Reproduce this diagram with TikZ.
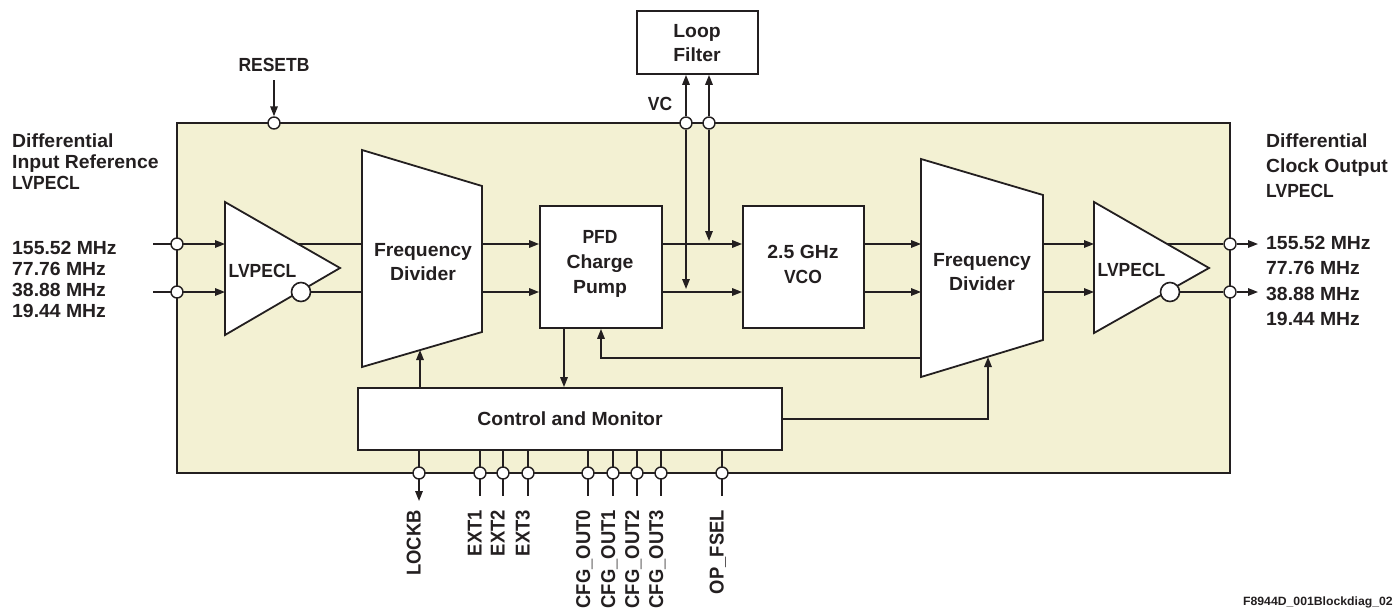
\documentclass[tikz,border=0pt]{standalone}
\usepackage{fontspec}
\setmainfont{Liberation Sans}[FakeStretch=1.02]
\newfontfamily\capsfont{Liberation Sans}[FakeStretch=0.92]
\usetikzlibrary{arrows.meta}
\definecolor{lc}{HTML}{231F20}
\definecolor{chip}{HTML}{F3F1D3}
\pgfdeclarelayer{bg}
\pgfdeclarelayer{fg}
\pgfsetlayers{bg,main,fg}
\tikzset{
  ln/.style={draw=lc, line width=1.6pt},
  arr/.style={ln, -{Triangle[length=10pt,width=7.5pt]}},
  pinc/.style={circle, draw=lc, fill=white, line width=1.4pt, minimum size=12pt, inner sep=0pt},
  bubble/.style={circle, draw=lc, fill=white, line width=1.6pt, minimum size=19pt, inner sep=0pt},
  blk/.style={draw=lc, fill=white, line width=1.8pt},
  chipbox/.style={draw=lc, fill=chip, line width=1.8pt, inner sep=0pt, minimum width=1053pt, minimum height=350pt},
  txt/.style={font=\bfseries\fontsize{19}{21}\selectfont, inner sep=0pt, text=lc},
  caps/.style={font=\capsfont\bfseries\fontsize{19}{21}\selectfont, inner sep=0pt, text=lc},
  pinlab/.style={font=\capsfont\bfseries\fontsize{20}{22}\selectfont, inner sep=0pt, text=lc, rotate=90, anchor=base east},
}
\begin{document}
\begin{tikzpicture}[x=1pt,y=-1pt]
\useasboundingbox (0,0) rectangle (1397,610);

\begin{pgfonlayer}{bg}
\node[chipbox] (chipb) at (703.5,298) {};
\end{pgfonlayer}

% connection points
\coordinate (inA) at (153,244);
\coordinate (inB) at (153,292);
\coordinate (t1iA) at (225,244);
\coordinate (t1iB) at (225,292);
\coordinate (t1oA) at (298,244);
\coordinate (f1iA) at (362,244);
\coordinate (f1iB) at (362,292);
\coordinate (f1oA) at (482,244);
\coordinate (f1oB) at (482,292);
\coordinate (f1c) at (420,350);
\coordinate (f2iA) at (921,244);
\coordinate (f2iB) at (921,292);
\coordinate (f2oA) at (1043,244);
\coordinate (f2oB) at (1043,292);
\coordinate (f2fb) at (921,358);
\coordinate (f2c) at (988,357);
\coordinate (t2iA) at (1094,244);
\coordinate (t2iB) at (1094,292);
\coordinate (t2oA) at (1167,244);
\coordinate (outA) at (1258,244);
\coordinate (outB) at (1258,292);
\coordinate (rst) at (274,80);
\coordinate (pfdd) at (564,328);

% blocks
\draw[blk] (225,202) -- (340,268) -- (225,335) -- cycle;
\draw[blk] (362,150) -- (482,186) -- (482,332) -- (362,367) -- cycle;
\draw[blk] (921,159) -- (1043,195) -- (1043,340) -- (921,377) -- cycle;
\draw[blk] (1094,202) -- (1209,268) -- (1094,333) -- cycle;
\node[blk, minimum width=122pt, minimum height=122pt, inner sep=0pt] (pfd) at (601,267) {};
\node[blk, minimum width=121pt, minimum height=122pt, inner sep=0pt] (vco) at (803.5,267) {};
\node[blk, minimum width=121pt, minimum height=63pt, inner sep=0pt] (lf) at (697.5,42.5) {};
\node[blk, minimum width=424pt, minimum height=62pt, inner sep=0pt, txt] (ctl) at (570,419) {Control and Monitor};

% pins and bubbles
\begin{pgfonlayer}{fg}
\node[pinc] (pA) at (177,244) {};
\node[pinc] (pB) at (177,292) {};
\node[pinc] (pR) at (274,123) {};
\node[pinc] (pvc1) at (686,123) {};
\node[pinc] (pvc2) at (709,123) {};
\node[pinc] (pOA) at (1230,244) {};
\node[pinc] (pOB) at (1230,292) {};
\node[bubble] (b1) at (301,292) {};
\node[bubble] (b2) at (1170,292) {};
\foreach \n/\x in {lock/419,e1/480,e2/503,e3/528,c0/588,c1/613,c2/637,c3/661,op/722}{
  \node[pinc] (p\n) at (\x,473) {};
}
\end{pgfonlayer}

% connectors
\draw[arr] (inA) -- (t1iA);
\draw[arr] (inB) -- (t1iB);
\draw[ln] (t1oA) -- (f1iA);
\draw[ln] (b1) -- (f1iB);
\draw[arr] (f1oA) -- (pfd.west |- f1oA);
\draw[arr] (f1oB) -- (pfd.west |- f1oB);
\draw[arr] (pfd.east |- f1oA) -- (vco.west |- f1oA);
\draw[arr] (pfd.east |- f1oB) -- (vco.west |- f1oB);
\draw[arr] (vco.east |- f1oA) -- (f2iA);
\draw[arr] (vco.east |- f1oB) -- (f2iB);
\draw[arr] (f2oA) -- (t2iA);
\draw[arr] (f2oB) -- (t2iB);
\draw[ln] (t2oA) -- (pOA);
\draw[ln] (b2) -- (pOB);
\draw[arr] (pOA) -- (outA);
\draw[arr] (pOB) -- (outB);
\draw[arr] (rst) -- (pR.north);
\draw[arr] (pvc1) -- (pvc1 |- lf.south);
\draw[arr] (pvc2) -- (pvc2 |- lf.south);
\draw[arr, shorten >=3pt] (pvc1) -- (pvc1 |- f1oB);
\draw[arr, shorten >=3pt] (pvc2) -- (pvc2 |- f1oA);
\draw[arr] (pfdd) -- (pfdd |- ctl.north);
\draw[arr] (f1c |- ctl.north) -- (f1c);
\draw[arr] (f2fb) -| (pfd.south);
\draw[arr] (ctl.east) -| (f2c);
\draw[arr] (ctl.south -| plock) -- ([yshift=-28pt]plock.center);
\foreach \n in {e1,e2,e3,c0,c1,c2,c3,op}{
  \draw[ln] (ctl.south -| p\n) -- ([yshift=-23pt]p\n.center);
}

% texts
\node[txt, anchor=base west] (lh1) at (12,147) {Differential};
\node[txt, anchor=base west] (lh2) at (12,168) {Input Reference};
\node[caps, anchor=base west] (lh3) at (12,189) {LVPECL};
\node[txt, anchor=base west] (lf1) at (12,254) {155.52 MHz};
\node[txt, anchor=base west] (lf2) at (12,275) {77.76 MHz};
\node[txt, anchor=base west] (lf3) at (12,296) {38.88 MHz};
\node[txt, anchor=base west] (lf4) at (12,317) {19.44 MHz};
\node[txt, anchor=base west] (rh1) at (1266,147) {Differential};
\node[txt, anchor=base west] (rh2) at (1266,172) {Clock Output};
\node[caps, anchor=base west] (rh3) at (1266,197) {LVPECL};
\node[txt, anchor=base west] (rf1) at (1266,249) {155.52 MHz};
\node[txt, anchor=base west] (rf2) at (1266,274) {77.76 MHz};
\node[txt, anchor=base west] (rf3) at (1266,300) {38.88 MHz};
\node[txt, anchor=base west] (rf4) at (1266,325) {19.44 MHz};
\node[caps, anchor=base] (rstl) at (274,71) {RESETB};
\node[txt, anchor=base] (lfa) at (697,38) {Loop};
\node[txt, anchor=base] (lfb) at (697,62) {Filter};
\node[caps, anchor=base] (vcl) at (660,110) {VC};
\node[caps, anchor=base] (pfa) at (600,243) {PFD};
\node[txt, anchor=base] (pfb) at (600,268) {Charge};
\node[txt, anchor=base] (pfc) at (600,293) {Pump};
\node[txt, anchor=base] (vca) at (803,258) {2.5 GHz};
\node[caps, anchor=base] (vcb) at (803,283) {VCO};
\node[txt, anchor=base] (fd1a) at (423,256) {Frequency};
\node[txt, anchor=base] (fd1b) at (423,280) {Divider};
\node[txt, anchor=base] (fd2a) at (982,266) {Frequency};
\node[txt, anchor=base] (fd2b) at (982,290) {Divider};
\node[caps, anchor=base] (lv1) at (262.5,277) {LVPECL};
\node[caps, anchor=base] (lv2) at (1131.5,276) {LVPECL};
\node[pinlab] (llock) at (420.5,510) {LOCKB};
\node[pinlab] (le1) at (481.5,510) {EXT1};
\node[pinlab] (le2) at (504.5,510) {EXT2};
\node[pinlab] (le3) at (529.5,510) {EXT3};
\node[pinlab] (lc0) at (590,510) {CFG\_OUT0};
\node[pinlab] (lc1) at (615,510) {CFG\_OUT1};
\node[pinlab] (lc2) at (639,510) {CFG\_OUT2};
\node[pinlab] (lc3) at (663,510) {CFG\_OUT3};
\node[pinlab] (lop) at (723.5,510) {OP\_FSEL};
\node[txt, font=\bfseries\fontsize{12}{14}\selectfont, anchor=base east] (foot) at (1393,605) {F8944D\_001Blockdiag\_02};
\end{tikzpicture}
\end{document}
